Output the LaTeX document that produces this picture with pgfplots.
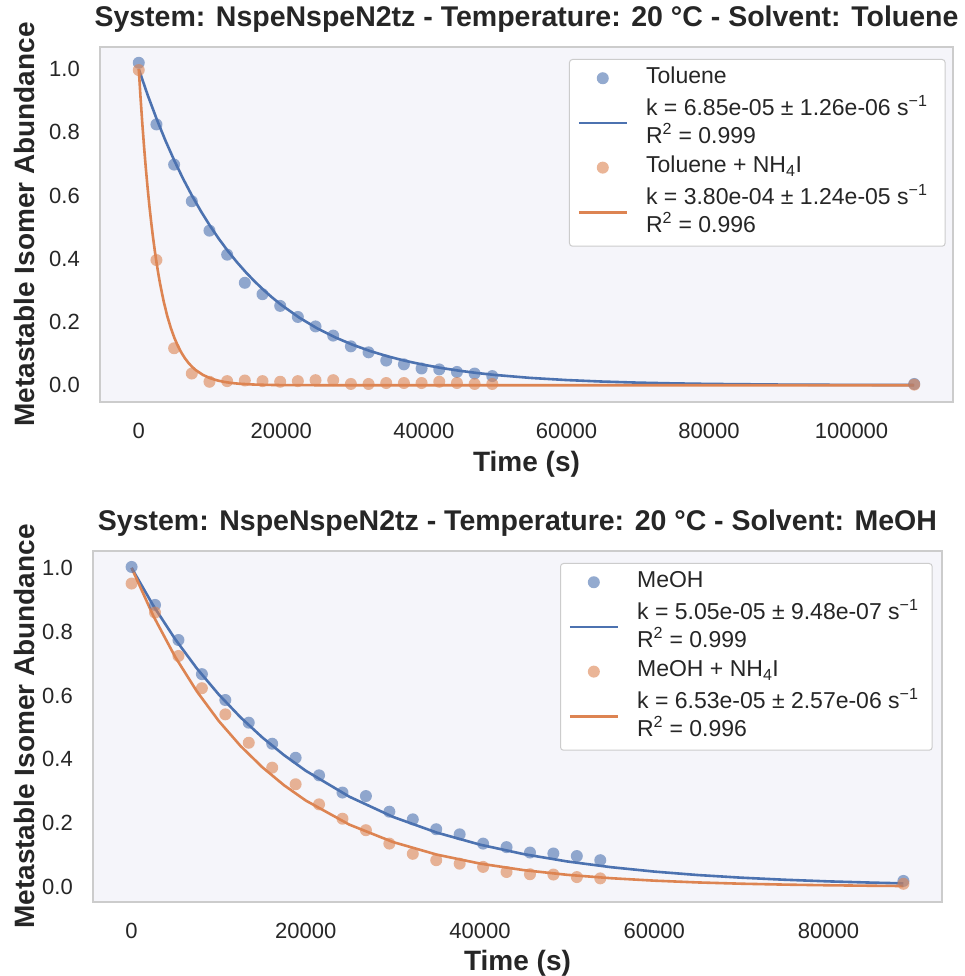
\documentclass[border=0pt]{standalone}
\usepackage{pgfplots}
\pgfplotsset{compat=1.18}
\usepackage{fontspec}
\setmainfont{Liberation Sans}
\definecolor{sbblue}{HTML}{4C72B0}
\definecolor{sborange}{HTML}{DD8452}
\definecolor{axbg}{RGB}{245,245,250}
\definecolor{framec}{RGB}{204,204,204}
\definecolor{txt}{HTML}{262626}
\newcommand{\lgd}[2][291pt]{\begin{tabular}{@{}p{#1}@{}}#2\end{tabular}}
\pgfplotsset{
  kin/.style={
    scale only axis,
    axis background/.style={fill=axbg},
    axis line style={draw=framec, line width=1.5pt},
    major tick length=0pt,
    tick style={draw=none},
    /pgf/number format/assume math mode=true,
    scaled x ticks=false,
    ytick={0,0.2,0.4,0.6,0.8,1.0},
    yticklabel style={/pgf/number format/.cd, fixed, fixed zerofill, precision=1, /tikz/.cd,
      font=\fontsize{22}{26}\selectfont, text=txt, anchor=east, inner sep=0pt, xshift=-20pt},
    xticklabel style={/pgf/number format/.cd, fixed, set thousands separator={}, /tikz/.cd,
      font=\fontsize{22}{26}\selectfont, text=txt, anchor=base, inner sep=0pt, yshift=-37pt},
    title style={font=\fontsize{28.5}{34}\selectfont\bfseries, text=txt, anchor=base, inner sep=0pt},
    xlabel style={font=\fontsize{28}{34}\selectfont\bfseries, text=txt, anchor=base, inner sep=0pt},
    ylabel style={font=\fontsize{28}{34}\selectfont\bfseries, text=txt, anchor=base, inner sep=0pt},
    xlabel={Time (s)},
    ylabel={Metastable Isomer Abundance},
    legend cell align=left,
    legend style={anchor=north west, draw=framec, line width=1pt, rounded corners=3pt, fill=white,
      font=\fontsize{23}{25}\selectfont, text=txt, inner xsep=8pt, inner ysep=6.25pt,
      row sep=4.5pt, column sep=18pt, nodes={inner sep=0pt, text depth=}},
    legend image code/.code={\draw[mark repeat=2,mark phase=2,##1,line width=2.6pt,rounded corners=0pt] plot coordinates {(0pt,0pt) (24pt,0pt) (48pt,0pt)};},
  },
  scb/.style={only marks, mark=*, color=sbblue, mark size=6pt, mark options={fill=sbblue, fill opacity=0.6, draw opacity=0}},
  sco/.style={only marks, mark=*, color=sborange, mark size=6pt, mark options={fill=sborange, fill opacity=0.6, draw opacity=0}},
  fitb/.style={no marks, draw=sbblue, line width=2.6pt, line join=round},
  fito/.style={no marks, draw=sborange, line width=2.6pt, line join=round},
}
\begin{document}
\begin{tikzpicture}
\useasboundingbox (0,0) rectangle (965pt,976pt);
% ---------------- Top: Toluene ----------------
\begin{axis}[kin, at={(100pt,574pt)}, anchor=south west, width=853pt, height=355pt,
  xmin=-5440, xmax=114240, ymin=-0.053, ymax=1.07,
  xtick={0,20000,40000,60000,80000,100000},
  title={System: NspeNspeN2tz - Temperature: 20 °C - Solvent: Toluene},
  title style={at={([yshift=14pt]axis description cs:0.5,1)}},
  xlabel style={at={([yshift=-70pt]axis description cs:0.5,0)}},
  ylabel style={at={([xshift=-65pt]axis description cs:0,0.5)}},
  legend style={at={([yshift=-12pt]axis description cs:0.5498,1)}},
]
\addplot[scb] table {
0 1.020
2480 0.825
4960 0.698
7440 0.582
9920 0.489
12400 0.413
14880 0.324
17360 0.288
19840 0.251
22320 0.216
24800 0.186
27280 0.157
29760 0.123
32240 0.104
34720 0.078
37200 0.066
39680 0.053
42160 0.050
44640 0.042
47120 0.037
49600 0.029
108800 0.004
};
\addlegendentry{\lgd{Toluene}}
\addplot[fitb] table {
0 1.0
1250 0.9179
2500 0.8426
3750 0.7735
5000 0.7100
6250 0.6518
7500 0.5983
8750 0.5493
10000 0.5041
11250 0.4627
12500 0.4248
13750 0.3899
15000 0.3579
16250 0.3286
17500 0.3016
18750 0.2769
20000 0.2541
22500 0.2141
25000 0.1804
27500 0.1520
30000 0.1281
32500 0.1079
35000 0.0909
37500 0.0766
40000 0.0646
42500 0.0544
45000 0.0458
47500 0.0386
50000 0.0325
55000 0.0231
60000 0.0164
65000 0.01165
70000 0.00827
75000 0.00587
80000 0.00417
90000 0.00210
100000 0.00106
108800 0.00058
};
\addlegendentry{\lgd{k = 6.85e-05 ± 1.26e-06 s\textsuperscript{−1}\\R\textsuperscript{2} = 0.999}}
\addplot[sco] table {
0 0.997
2480 0.396
4960 0.117
7440 0.037
9920 0.011
12400 0.013
14880 0.015
17360 0.013
19840 0.011
22320 0.013
24800 0.016
27280 0.016
29760 0.004
32240 0.004
34720 0.007
37200 0.007
39680 0.007
42160 0.011
44640 0.007
47120 0.004
49600 0.004
108800 0.002
};
\addlegendentry{\lgd{Toluene + NH\textsubscript{4}I}}
\addplot[fito] table {
0 1.0
250 0.9094
500 0.8270
750 0.7520
1000 0.6839
1250 0.6219
1500 0.5655
1750 0.5143
2000 0.4677
2250 0.4253
2500 0.3867
2750 0.3517
3000 0.3198
3500 0.2645
4000 0.2187
4500 0.1809
5000 0.1496
5500 0.1237
6000 0.1023
6500 0.0846
7000 0.0699
7500 0.0578
8000 0.0478
9000 0.0327
10000 0.0224
11000 0.0153
12000 0.0105
13000 0.00715
14000 0.0049
16000 0.0023
18000 0.00107
20000 0.0005
25000 0.00008
108800 0.0
};
\addlegendentry{\lgd{k = 3.80e-04 ± 1.24e-05 s\textsuperscript{−1}\\R\textsuperscript{2} = 0.996}}
\end{axis}
% ---------------- Bottom: MeOH ----------------
\begin{axis}[kin, at={(93pt,74pt)}, anchor=south west, width=849pt, height=351pt,
  xmin=-4430, xmax=93030, ymin=-0.047, ymax=1.053,
  xtick={0,20000,40000,60000,80000},
  title={System: NspeNspeN2tz - Temperature: 20 °C - Solvent: MeOH},
  title style={at={([yshift=14pt]axis description cs:0.5,1)}},
  xlabel style={at={([yshift=-68pt]axis description cs:0.5,0)}},
  ylabel style={at={([xshift=-59pt]axis description cs:0,0.5)}},
  legend style={at={([yshift=-12pt]axis description cs:0.5501,1)}},
]
\addplot[scb] table {
0 1.003
2690 0.884
5380 0.774
8070 0.667
10760 0.586
13450 0.515
16140 0.449
18830 0.405
21520 0.350
24210 0.296
26900 0.285
29590 0.236
32280 0.212
34970 0.181
37660 0.165
40350 0.136
43040 0.125
45730 0.108
48420 0.105
51110 0.097
53800 0.084
88600 0.019
};
\addlegendentry{\lgd[287pt]{MeOH}}
\addplot[fitb] table {
0 1.0
2500 0.8814
5000 0.7769
7500 0.6847
10000 0.6035
12500 0.5319
15000 0.4688
17500 0.4133
20000 0.3642
25000 0.2830
30000 0.2198
35000 0.1708
40000 0.1327
45000 0.1031
50000 0.0801
55000 0.0622
60000 0.0483
65000 0.0375
70000 0.0292
75000 0.0227
80000 0.0176
85000 0.0137
88600 0.0114
};
\addlegendentry{\lgd[287pt]{k = 5.05e-05 ± 9.48e-07 s\textsuperscript{−1}\\R\textsuperscript{2} = 0.999}}
\addplot[sco] table {
0 0.951
2690 0.860
5380 0.724
8070 0.623
10760 0.541
13450 0.452
16140 0.374
18830 0.322
21520 0.259
24210 0.214
26900 0.178
29590 0.136
32280 0.104
34970 0.084
37660 0.073
40350 0.063
43040 0.047
45730 0.040
48420 0.039
51110 0.031
53800 0.027
88600 0.010
};
\addlegendentry{\lgd[287pt]{MeOH + NH\textsubscript{4}I}}
\addplot[fito] table {
0 1.0
2500 0.8494
5000 0.7214
7500 0.6128
10000 0.5205
12500 0.4421
15000 0.3755
17500 0.3189
20000 0.2709
25000 0.1954
30000 0.1410
35000 0.1017
40000 0.0734
45000 0.0529
50000 0.0382
55000 0.0276
60000 0.0199
65000 0.0143
70000 0.0103
75000 0.00746
80000 0.00539
85000 0.00389
88600 0.00307
};
\addlegendentry{\lgd[287pt]{k = 6.53e-05 ± 2.57e-06 s\textsuperscript{−1}\\R\textsuperscript{2} = 0.996}}
\end{axis}
\end{tikzpicture}
\end{document}
